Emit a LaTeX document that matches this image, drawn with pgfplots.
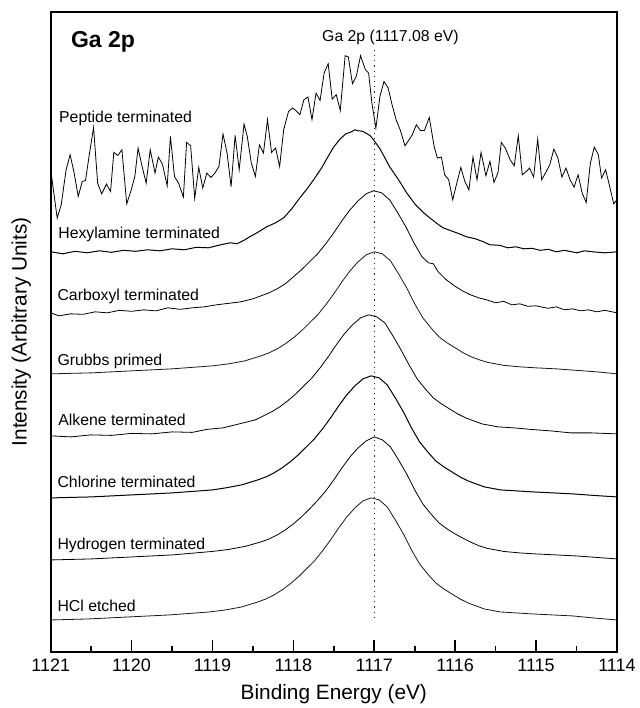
\documentclass[border=0pt]{standalone}
\usepackage{fontspec}
\setmainfont{Liberation Sans}
\usepackage{pgfplots}
\pgfplotsset{compat=1.18}
\begin{document}
\begin{tikzpicture}
\useasboundingbox (-25.35pt,-28pt) rectangle (294.15pt,325.85pt);
\begin{axis}[
  at={(0pt,0pt)}, anchor=south west,
  scale only axis, width=283pt, height=320pt,
  xmin=1114, xmax=1121, ymin=0, ymax=640,
  x dir=reverse,
  xtick={1114,1115,1116,1117,1118,1119,1120,1121},
  minor x tick num=1,
  ytick=\empty,
  xtick pos=left,
  tick align=inside,
  major tick length=6pt, minor tick length=3pt,
  axis line style={line width=1pt},
  every tick/.style={line width=0.8pt, black},
  xticklabel style={font=\fontsize{9}{10}\selectfont},
  /pgf/number format/assume math mode=true,
  /pgf/number format/1000 sep={},
  xlabel={Binding Energy (eV)},
  ylabel={Intensity (Arbitrary Units)},
  xlabel style={font=\fontsize{10.4}{12}\selectfont, at={(axis description cs:0.5,-0.075)}, anchor=base},
  ylabel style={font=\fontsize{10.4}{12}\selectfont, at={(axis description cs:-0.0424,0.5)}, anchor=base},
  no markers,
  cycle list={{black!90, solid, line width=0.5pt, mark=none}},
]
% HCl etched
\addplot table {
1121.00 32
1120.54 33
1120.04 35
1119.54 37
1119.04 40
1118.84 42
1118.64 45
1118.44 50
1118.34 53
1118.24 57
1118.14 62
1118.04 68
1117.94 75
1117.84 83
1117.74 91
1117.64 101
1117.54 112
1117.44 124
1117.34 135
1117.24 144
1117.14 151
1117.04 154
1116.94 152
1116.84 145
1116.74 132
1116.64 118
1116.54 102
1116.44 88
1116.34 78
1116.24 69
1116.14 63
1116.04 58
1115.94 53
1115.84 49
1115.74 46
1115.64 43
1115.44 40
1115.24 39
1115.04 38
1114.79 37
1114.54 36
1114.29 34
1114.00 32
};
% Hydrogen terminated
\addplot table {
1121.00 92
1120.50 93
1120.00 95
1119.50 97
1119.00 100.5
1118.80 102.5
1118.60 105.5
1118.40 110
1118.30 113
1118.20 117
1118.10 122
1118.00 128
1117.90 135
1117.80 143
1117.70 151.5
1117.60 161
1117.50 172
1117.40 184
1117.30 195
1117.20 204
1117.10 211
1117.00 215
1116.90 212
1116.80 205
1116.70 192
1116.60 178
1116.50 162
1116.40 148
1116.30 138
1116.20 129
1116.10 123
1116.00 118
1115.90 113.5
1115.80 109.5
1115.70 106
1115.60 103.5
1115.40 100.5
1115.20 99
1115.00 98
1114.75 97
1114.50 96
1114.25 94.5
1114.00 93
};
% Chlorine terminated
\addplot table {
1121.00 154
1120.50 155
1120.00 157
1119.50 159
1119.00 162
1118.84 164
1118.64 167
1118.44 172
1118.34 175
1118.24 179
1118.14 184
1118.04 190
1117.94 197
1117.84 205
1117.74 213
1117.64 223
1117.54 234
1117.44 246
1117.34 257
1117.24 266
1117.14 273
1117.04 276
1116.94 274
1116.84 267
1116.74 254
1116.64 240
1116.54 224
1116.44 210
1116.34 200
1116.24 191
1116.14 185
1116.04 180
1115.94 175
1115.84 171
1115.74 168
1115.64 165
1115.44 162
1115.24 161
1115.04 160
1114.79 159
1114.54 158
1114.29 156.5
1114.00 155
};
% Alkene terminated
\addplot table {
1121.00 216
1120.75 215
1120.50 217
1120.25 216.5
1120.00 218.5
1119.75 218
1119.50 220
1119.25 219.5
1119.07 222.5
1118.87 224
1118.67 228
1118.47 232
1118.37 236
1118.27 240
1118.17 245
1118.07 251
1117.97 258
1117.87 266
1117.77 274
1117.67 284
1117.57 295
1117.47 307
1117.37 318
1117.27 327
1117.17 334
1117.07 337
1116.97 335
1116.87 329
1116.77 316
1116.67 302
1116.57 287
1116.47 273
1116.37 263
1116.27 254
1116.17 248
1116.07 243
1115.97 238
1115.87 234
1115.77 231
1115.67 228
1115.47 225
1115.27 224
1115.07 222.5
1114.82 221
1114.57 219
1114.32 219
1114.00 218
};
% Grubbs primed
\addplot table {
1121.00 278
1120.50 279
1120.00 281
1119.50 283
1119.00 286
1118.80 288
1118.60 291
1118.40 296
1118.30 299
1118.20 303
1118.10 308
1118.00 314
1117.90 321
1117.80 329
1117.70 337
1117.60 347
1117.50 358
1117.40 370
1117.30 381
1117.20 390
1117.10 397
1117.00 400
1116.90 398
1116.80 391
1116.70 378
1116.60 364
1116.50 348
1116.40 334
1116.30 324
1116.20 315
1116.10 309
1116.00 304
1115.90 299
1115.80 295
1115.70 292
1115.60 289.5
1115.40 286.5
1115.20 285
1115.00 284
1114.75 283
1114.50 281.5
1114.25 280
1114.00 278
};
% Carboxyl terminated
\addplot table {
1121.00 339
1120.90 336
1120.75 338
1120.60 337.5
1120.45 340
1120.30 339
1120.15 341.5
1120.00 340.5
1119.85 342
1119.70 341
1119.55 344
1119.40 342.5
1119.25 344
1119.10 345
1118.95 347
1118.80 348.5
1118.65 350
1118.50 353
1118.40 356
1118.30 359
1118.20 363
1118.10 368
1118.00 375
1117.90 382
1117.80 390
1117.70 398
1117.60 408
1117.50 419
1117.40 431
1117.30 442
1117.20 451
1117.10 458
1117.01 461
1116.91 459
1116.81 452
1116.71 439
1116.61 425
1116.51 409
1116.41 395
1116.33 389
1116.27 388
1116.21 380
1116.11 372
1116.01 366
1115.91 361
1115.81 357
1115.71 354
1115.61 352
1115.50 349
1115.40 350.5
1115.30 347
1115.20 348
1115.10 345.5
1115.00 346
1114.85 343.5
1114.75 345
1114.65 342
1114.55 343
1114.45 341
1114.35 342
1114.25 340
1114.15 341.5
1114.00 339
};
% Hexylamine terminated
\addplot table {
1121.00 400
1120.85 398
1120.70 400.5
1120.55 399
1120.40 401
1120.25 399.5
1120.10 401.5
1119.95 400.5
1119.80 402
1119.65 401
1119.50 403
1119.35 402
1119.20 404.5
1119.05 404
1118.90 407
1118.78 409
1118.70 408
1118.60 412
1118.54 415
1118.45 419
1118.33 425
1118.22 429
1118.12 434
1118.02 443
1117.92 454
1117.84 462
1117.75 472
1117.65 484
1117.58 494
1117.50 505
1117.42 513
1117.35 518
1117.28 520
1117.24 522
1117.20 521
1117.15 520.5
1117.10 518.5
1117.05 516
1117.01 512
1116.93 503
1116.87 494
1116.81 485
1116.70 472
1116.60 459
1116.50 448
1116.39 439
1116.30 433
1116.22 428
1116.15 424
1116.05 421
1115.95 418
1115.86 415
1115.75 413
1115.65 410
1115.57 407
1115.45 406.5
1115.35 404
1115.25 405
1115.15 403
1115.05 403.5
1114.95 401.5
1114.85 402.5
1114.75 400
1114.65 401.5
1114.50 399
1114.40 401
1114.30 400
1114.15 399
1114.00 400
};
% Peptide terminated
\addplot table {
1121.00 482
1120.92 433.7
1120.87 447
1120.81 482
1120.76 497
1120.71 478.7
1120.66 455.3
1120.61 470.3
1120.57 471.3
1120.52 498.7
1120.47 524.3
1120.42 468.7
1120.37 458
1120.31 467.7
1120.26 460.3
1120.22 499.3
1120.17 496.3
1120.12 502
1120.06 448
1120.01 460.3
1119.96 475.3
1119.92 503.7
1119.87 485.3
1119.82 468.7
1119.77 502
1119.71 478.7
1119.67 494.7
1119.62 488
1119.56 466
1119.52 515.3
1119.47 475.3
1119.42 468.7
1119.36 454.7
1119.32 509.3
1119.27 506
1119.22 453.3
1119.17 484.3
1119.12 463.7
1119.07 478.7
1119.02 474.3
1118.97 478.7
1118.92 485.3
1118.87 517.7
1118.82 498.7
1118.77 465.3
1118.72 516.3
1118.67 482
1118.61 527.7
1118.57 515.3
1118.52 488.7
1118.47 475.3
1118.42 507
1118.37 498.7
1118.32 532
1118.27 499.3
1118.22 503.7
1118.17 485.3
1118.12 522
1118.06 540.3
1118.01 543.7
1117.97 541.3
1117.92 537
1117.87 552
1117.82 554.7
1117.77 532
1117.72 558.7
1117.67 551.3
1117.62 578.7
1117.57 588
1117.52 552.7
1117.47 557
1117.42 541.3
1117.36 596
1117.32 594.7
1117.27 568
1117.22 576
1117.17 596
1117.11 582
1117.07 578.7
1117.03 549
1116.98 523.7
1116.93 555.3
1116.88 570.3
1116.83 564
1116.78 547
1116.73 532
1116.68 522
1116.62 506
1116.57 512
1116.53 517
1116.48 527
1116.43 521.3
1116.38 521.3
1116.32 534.3
1116.26 505.3
1116.22 493.7
1116.17 494.7
1116.13 477
1116.08 472
1116.03 452
1115.98 468.7
1115.93 484.3
1115.88 470.3
1115.83 462
1115.78 494.7
1115.73 472
1115.68 499.3
1115.62 476
1115.57 490.3
1115.52 469.3
1115.47 479.3
1115.43 509.3
1115.38 503.7
1115.32 492
1115.27 486
1115.22 516
1115.17 477
1115.12 480.3
1115.08 483.7
1115.03 474.7
1114.98 512.7
1114.93 472
1114.88 479.3
1114.83 487
1114.78 502.7
1114.73 493.7
1114.68 474.7
1114.63 483.7
1114.58 472
1114.53 464.7
1114.48 477
1114.43 458.7
1114.38 449.3
1114.33 488
1114.28 504.7
1114.23 497
1114.19 473.7
1114.14 482
1114.09 465.3
1114.04 448
1114.00 452
};
% reference line
\addplot[dotted, line width=0.6pt, black!85] coordinates {(1117,602) (1117,30)};
% labels
\node[anchor=base west, inner sep=0pt, font=\bfseries\fontsize{11.5}{13}\selectfont] at (axis cs:1120.753,604.3) {Ga 2p};
\node[anchor=base, inner sep=0pt, font=\fontsize{7.9}{9}\selectfont] at (axis cs:1116.80,610.3) {Ga 2p (1117.08 eV)};
\node[anchor=base west, inner sep=0pt, font=\fontsize{7.9}{9}\selectfont] at (axis cs:1120.90,529.3) {Peptide terminated};
\node[anchor=base west, inner sep=0pt, font=\fontsize{7.9}{9}\selectfont] at (axis cs:1120.91,413.7) {Hexylamine terminated};
\node[anchor=base west, inner sep=0pt, font=\fontsize{7.9}{9}\selectfont] at (axis cs:1120.92,351) {Carboxyl terminated};
\node[anchor=base west, inner sep=0pt, font=\fontsize{7.9}{9}\selectfont] at (axis cs:1120.92,286) {Grubbs primed};
\node[anchor=base west, inner sep=0pt, font=\fontsize{7.9}{9}\selectfont] at (axis cs:1120.91,226) {Alkene terminated};
\node[anchor=base west, inner sep=0pt, font=\fontsize{7.9}{9}\selectfont] at (axis cs:1120.92,164.3) {Chlorine terminated};
\node[anchor=base west, inner sep=0pt, font=\fontsize{7.9}{9}\selectfont] at (axis cs:1120.92,102) {Hydrogen terminated};
\node[anchor=base west, inner sep=0pt, font=\fontsize{7.9}{9}\selectfont] at (axis cs:1120.92,40.3) {HCl etched};
\end{axis}
\end{tikzpicture}
\end{document}
